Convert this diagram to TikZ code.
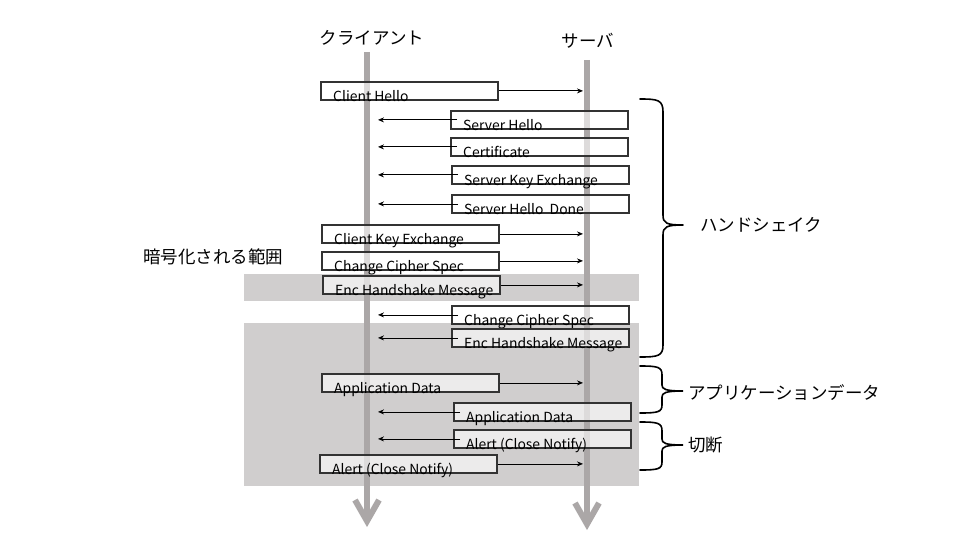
\documentclass[tikz,border=0pt]{standalone}
\usepackage{fontspec}
\setmainfont{Noto Sans CJK JP}
\usetikzlibrary{arrows.meta,calc}
\definecolor{lifegray}{HTML}{ABA7A7}
\definecolor{bandgray}{HTML}{D0CECE}
\definecolor{boxline}{HTML}{333333}
\begin{document}
\begin{tikzpicture}[x=1pt,y=-1pt,
  lifeline/.style={draw=lifegray,line width=6pt},
  chevron/.style={draw=lifegray,line width=6pt,miter limit=10},
  band/.style={fill=bandgray},
  msgbox/.style={draw=boxline,line width=1.8pt,fill=white,fill opacity=0.6,
    inner sep=0pt,minimum width=177pt,minimum height=18pt,anchor=north west},
  msglbl/.style={inner sep=0pt,anchor=base west,font=\fontsize{13.9}{15}\selectfont},
  arr/.style={draw=black,line width=0.8pt,-{Stealth[length=6pt,width=5pt]}},
  brace/.style={draw=black,line width=1.6pt,line cap=round},
  jlbl/.style={inner sep=0pt,font=\fontsize{17.5}{19}\selectfont},
]
\useasboundingbox (0,0) rectangle (960,540);
% bands
\fill[band] (244,274) rectangle (639,301);
\fill[band] (244,323) rectangle (639,486);
% lifelines
\coordinate (ctop) at (367,52);
\coordinate (cbot) at (367,521);
\coordinate (stop) at (587,60);
\coordinate (sbot) at (587,524);
\draw[lifeline] (ctop) -- (cbot);
\draw[lifeline] (stop) -- (sbot);
\draw[chevron] (355,500) -- (cbot) -- (379,500);
\draw[chevron] (575,503) -- (sbot) -- (599,503);
% headers
\node[jlbl] (client) at (372,38) {クライアント};
\node[jlbl] (server) at (588,41) {サーバ};
\node[jlbl,anchor=west] (enc) at (143,257) {暗号化される範囲};
% arrow targets
\coordinate (cx) at (378,0);
\coordinate (sx) at (583,0);
% messages client -> server
\node[msgbox] (m1) at (320,81) {};
\node[msglbl] (t1) at ($(m1.south west)+(13,1)$) {Client Hello};
\draw[arr] (m1.east) -- (m1.east -| sx);
% server -> client
\node[msgbox] (m2) at (450,110) {};
\node[msglbl] (t2) at ($(m2.south west)+(13,1)$) {Server Hello};
\coordinate (a2) at ($(m2.west)+(7,0)$);
\draw[arr] (a2) -- (a2 -| cx);
\node[msgbox] (m3) at (450,137) {};
\node[msglbl] (t3) at ($(m3.south west)+(13,1)$) {Certificate};
\coordinate (a3) at ($(m3.west)+(7,0)$);
\draw[arr] (a3) -- (a3 -| cx);
\node[msgbox] (m4) at (451,165) {};
\node[msglbl] (t4) at ($(m4.south west)+(13,1)$) {Server Key Exchange};
\coordinate (a4) at ($(m4.west)+(7,0)$);
\draw[arr] (a4) -- (a4 -| cx);
\node[msgbox] (m5) at (451,194) {};
\node[msglbl] (t5) at ($(m5.south west)+(13,1)$) {Server Hello\ \ Done};
\coordinate (a5) at ($(m5.west)+(7,0)$);
\draw[arr] (a5) -- (a5 -| cx);
% client -> server
\node[msgbox] (m6) at (321,224) {};
\node[msglbl] (t6) at ($(m6.south west)+(13,1)$) {Client Key Exchange};
\draw[arr] (m6.east) -- (m6.east -| sx);
\node[msgbox] (m7) at (321,251) {};
\node[msglbl] (t7) at ($(m7.south west)+(13,1)$) {Change Cipher Spec};
\draw[arr] (m7.east) -- (m7.east -| sx);
\node[msgbox] (m8) at (322,275) {};
\node[msglbl] (t8) at ($(m8.south west)+(13,1)$) {Enc Handshake Message};
\draw[arr] (m8.east) -- (m8.east -| sx);
% server -> client
\node[msgbox] (m9) at (451,305) {};
\node[msglbl] (t9) at ($(m9.south west)+(13,1)$) {Change Cipher Spec};
\coordinate (a9) at ($(m9.west)+(7,0)$);
\draw[arr] (a9) -- (a9 -| cx);
\node[msgbox] (m10) at (451,328) {};
\node[msglbl] (t10) at ($(m10.south west)+(13,1)$) {Enc Handshake Message};
\coordinate (a10) at ($(m10.west)+(7,0)$);
\draw[arr] (a10) -- (a10 -| cx);
% application data
\node[msgbox] (m11) at (321,373) {};
\node[msglbl] (t11) at ($(m11.south west)+(13,1)$) {Application Data};
\draw[arr] (m11.east) -- (m11.east -| sx);
\node[msgbox] (m12) at (453,402) {};
\node[msglbl] (t12) at ($(m12.south west)+(13,1)$) {Application Data};
\coordinate (a12) at ($(m12.west)+(7,0)$);
\draw[arr] (a12) -- (a12 -| cx);
% alerts
\node[msgbox] (m13) at (453,429) {};
\node[msglbl] (t13) at ($(m13.south west)+(13,1)$) {Alert (Close Notify)};
\coordinate (a13) at ($(m13.west)+(7,0)$);
\draw[arr] (a13) -- (a13 -| cx);
\node[msgbox] (m14) at (319,454) {};
\node[msglbl] (t14) at ($(m14.south west)+(13,1)$) {Alert (Close Notify)};
\draw[arr] (m14.east) -- (m14.east -| sx);
% braces
\draw[brace] (640,99) .. controls (658,99) and (663,100) .. (663,112)
  -- (663,215) .. controls (663,223) and (666,225) .. (683,225)
  (683,225) .. controls (666,225) and (663,227) .. (663,235)
  -- (663,345) .. controls (663,356) and (658,357) .. (640,357);
\draw[brace] (640,366) .. controls (658,366) and (662,367) .. (662,375)
  -- (662,385) .. controls (662,389) and (665,391) .. (683,391)
  .. controls (665,391) and (662,393) .. (662,397)
  -- (662,405) .. controls (662,412) and (658,413) .. (640,413);
\draw[brace] (640,422) .. controls (658,422) and (662,423) .. (662,431)
  -- (662,439) .. controls (662,443) and (665,445) .. (683,445)
  .. controls (665,445) and (662,447) .. (662,451)
  -- (662,462) .. controls (662,469) and (658,470) .. (640,470);
\node[jlbl,anchor=west] (hs) at (700,225) {ハンドシェイク};
\node[jlbl,anchor=west] (ad) at (688,393) {アプリケーションデータ};
\node[jlbl,anchor=west] (cut) at (688,445) {切断};
\end{tikzpicture}
\end{document}
